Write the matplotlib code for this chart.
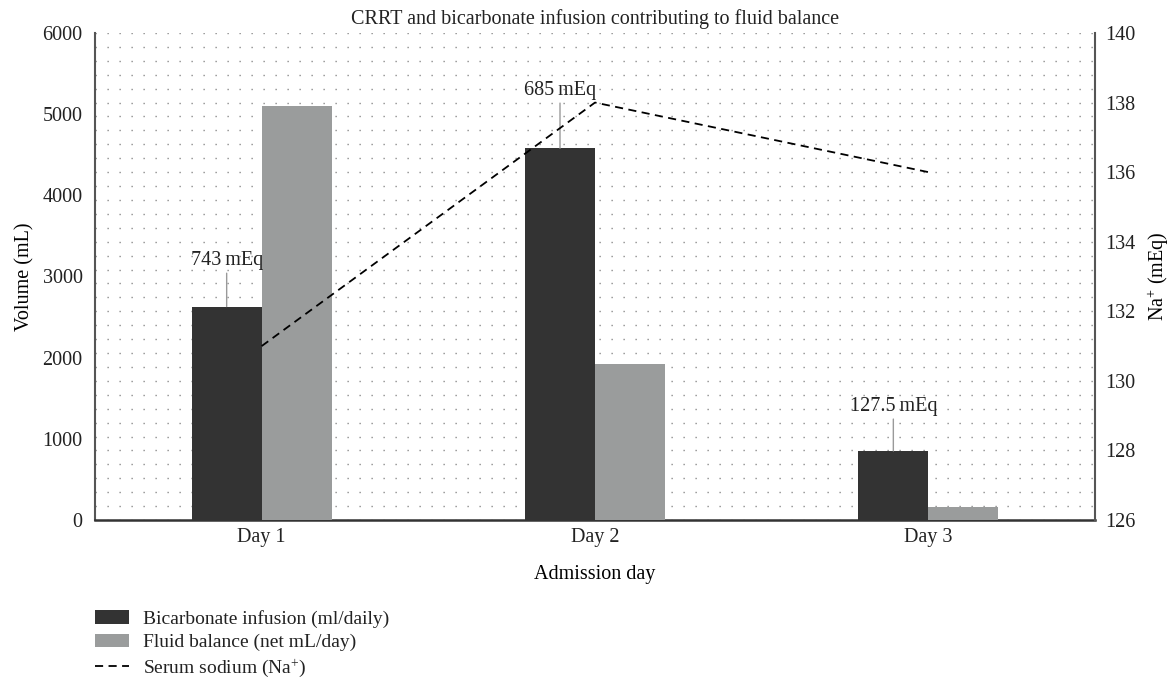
import numpy as np
import matplotlib
matplotlib.use("Agg")
import matplotlib.pyplot as plt

# -------------------------------------------------
# Data
# -------------------------------------------------
days = ["Day 1", "Day 2", "Day 3"]
bicarbonate_ml = [2630, 4580, 850]
fluid_balance_ml = [5100, 1920, 160]
sodium_meq = [131, 138, 136]
bicarb_labels = ["743\u2009mEq", "685\u2009mEq", "127.5\u2009mEq"]
label_offsets = [26, 34.5, 25]  # points above bar top

plt.rcParams["font.family"] = ["Liberation Serif", "DejaVu Serif"]
plt.rcParams["font.size"] = 14.5
plt.rcParams["text.color"] = "#222222"
plt.rcParams["mathtext.fontset"] = "custom"
plt.rcParams["mathtext.rm"] = "Liberation Serif"
plt.rcParams["mathtext.default"] = "regular"

fig = plt.figure(figsize=(11.7, 6.8), dpi=100)
ax1 = fig.add_axes([0.0812, 0.2353, 0.8547, 0.7162])
ax2 = ax1.twinx()

x = np.arange(len(days))
w = 0.21

b1 = ax1.bar(x - w / 2, bicarbonate_ml, w, color="#333333", linewidth=0,
             label="Bicarbonate infusion (ml/daily)", zorder=3)
b2 = ax1.bar(x + w / 2, fluid_balance_ml, w, color="#9a9c9c", linewidth=0,
             label="Fluid balance (net mL/day)", zorder=3)

for xi, v, lab, off in zip(x - w / 2, bicarbonate_ml, bicarb_labels, label_offsets):
    ax1.annotate(lab, xy=(xi, v), xytext=(0, off), textcoords="offset points",
                 ha="center", va="bottom", fontsize=14.5,
                 arrowprops=dict(arrowstyle="-", color="#9a9a9a", lw=1,
                                 shrinkA=0, shrinkB=0))

ln, = ax2.plot(x, sodium_meq, color="black", lw=1.3, linestyle=(0, (4.5, 3)),
               label="Serum sodium (Na$^{+}$)")

# axes limits / ticks
ax1.set_xlim(-0.5, 2.5)
ax1.set_ylim(0, 6000)
ax1.set_yticks(np.arange(0, 6001, 1000))
ax1.set_yticks(np.linspace(0, 6000, 36), minor=True)
ax1.yaxis.remove_overlapping_locs = False
ax2.set_ylim(126, 140)
ax2.set_yticks(np.arange(126, 141, 2))
ax1.set_xticks(x)
ax1.set_xticklabels(days)

ax1.tick_params(axis="both", which="both", length=0, colors="#222222")
ax1.tick_params(axis="y", pad=9)
ax1.tick_params(axis="x", pad=6)
ax2.tick_params(axis="y", length=0, pad=7, colors="#222222")

# dotted grid (minor rows only)
ax1.set_axisbelow(True)
ax1.grid(which="minor", axis="y", color="#808080", lw=1,
         linestyle=(0, (0.9, 7.74)))

for ax in (ax1, ax2):
    ax.spines["top"].set_visible(False)
ax1.spines["right"].set_visible(False)
ax1.spines["left"].set_color("#555555")
ax1.spines["left"].set_linewidth(1.5)
ax1.spines["bottom"].set_color("#333333")
ax1.spines["bottom"].set_linewidth(1.8)
ax2.spines["left"].set_visible(False)
ax2.spines["bottom"].set_visible(False)
ax2.spines["right"].set_color("#555555")
ax2.spines["right"].set_linewidth(1.5)

ax1.set_xlabel("Admission day", labelpad=13)
ax1.set_ylabel("Volume (mL)", labelpad=6)
ax2.set_ylabel("Na$^{+}$ (mEq)", labelpad=8)
ax1.set_title("CRRT and bicarbonate infusion contributing to fluid balance",
              fontsize=14.5, pad=6.5)

fig.legend(handles=[b1, b2, ln], loc="upper left", fontsize=14,
           bbox_to_anchor=(0.081, 0.103), bbox_transform=fig.transFigure,
           frameon=False, handlelength=1.75, handleheight=0.7,
           handletextpad=0.75, labelspacing=0.3, borderpad=0, borderaxespad=0)

fig.savefig("out.png", dpi=100)
